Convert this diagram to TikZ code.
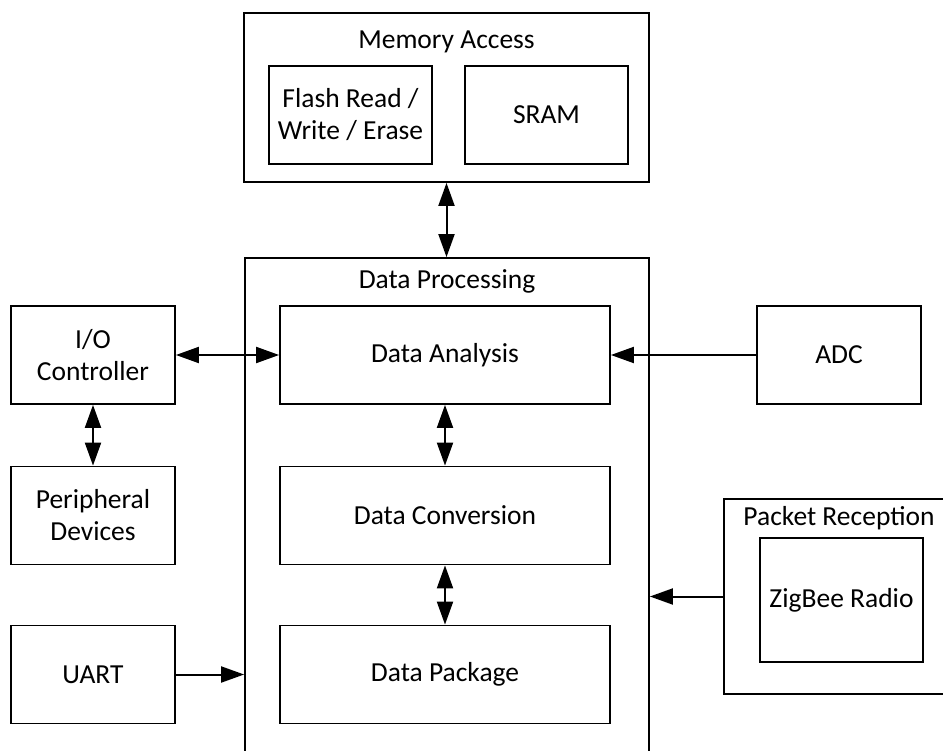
\documentclass[tikz,border=0pt]{standalone}
\usepackage{fontspec}
\setmainfont{Carlito}
\usetikzlibrary{positioning,arrows.meta}

\begin{document}
\begin{tikzpicture}[
x=1pt,
y=-1pt,
block/.style={
  draw,
  rectangle,
  line width=1.8pt,
  align=center,
  minimum width=164pt,
  minimum height=98pt,
  inner sep=0pt
  },
group/.style={
  draw,
  rectangle,
  line width=1.8pt,
  inner sep=0pt
  },
title/.style={
  draw=none,
  inner sep=0pt
  },
link/.style={
  line width=2pt
  },
>={Triangle[length=23pt,width=16pt]},
font=\fontsize{27.5}{32}\selectfont
]

\useasboundingbox (0,0) rectangle (943,751);
\clip (0,0) rectangle (943,751);

% memory
\node[group, minimum width=405pt, minimum height=169pt] (mem) at (446.5,97.5) {};
\node[title] (memtitle) at (446.5,42) {Memory Access};
\node[block, minimum width=163pt] (flash) at (350.5,115) {Flash Read /\\Write / Erase};
\node[block, minimum width=163pt] (sram) at (546.5,115) {SRAM};

% processing
\node[group, minimum width=404pt, minimum height=530pt] (proc) at (447,523) {};
\node[title] (proctitle) at (447,281) {Data Processing};
\foreach \nm/\txt/\yy in {analysis/Data Analysis/355,
                          conversion/Data Conversion/515.5,
                          package/Data Package/674.5}
  \node[block, minimum width=330pt] (\nm) at (445,\yy) {\txt};

% left side
\node[block] (io) at (93,355) {I/O\\Controller};
\node[block] (periph) at (93,515.5) {Peripheral\\Devices};
\node[block] (uart) at (93,674.5) {UART};

% right side
\node[block] (adc) at (839,355) {ADC};
\node[group, minimum width=240pt, minimum height=195pt] (packet) at (844,596.5) {};
\node[title] (packettitle) at (839,518) {Packet Reception};
\node[block, minimum width=163pt, minimum height=124pt] (zigbee) at (841.5,600) {ZigBee Radio};

\draw[link, <->] (mem.south) -- (mem.south |- proc.north);
\foreach \a/\b in {io/analysis, io/periph, analysis/conversion, conversion/package}
  \draw[link, <->] (\a) -- (\b);
\draw[link, ->] (adc) -- (analysis);
\draw[link, ->] (uart) -- (uart -| proc.west);
\draw[link, ->] (packet.west) -- (packet.west -| proc.east);
\end{tikzpicture}
\end{document}
